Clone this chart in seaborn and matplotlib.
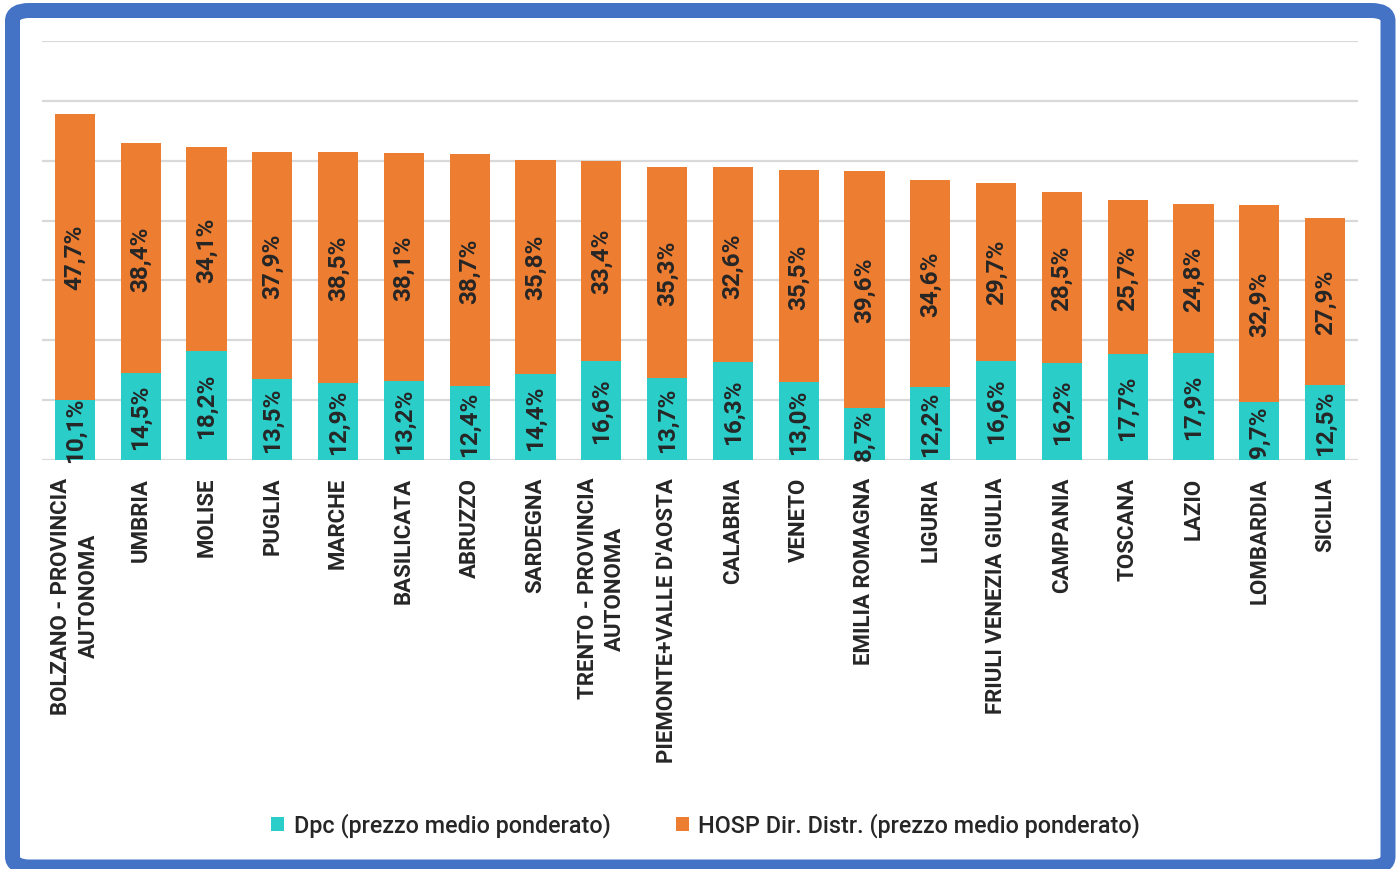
import matplotlib
matplotlib.use("Agg")
import matplotlib.pyplot as plt
import seaborn as sns
import pandas as pd
from matplotlib.patches import FancyBboxPatch, Patch

regions = ["BOLZANO - PROVINCIA\nAUTONOMA", "UMBRIA", "MOLISE", "PUGLIA", "MARCHE",
           "BASILICATA", "ABRUZZO", "SARDEGNA", "TRENTO - PROVINCIA\nAUTONOMA",
           "PIEMONTE+VALLE D'AOSTA", "CALABRIA", "VENETO", "EMILIA ROMAGNA", "LIGURIA",
           "FRIULI VENEZIA GIULIA", "CAMPANIA", "TOSCANA", "LAZIO", "LOMBARDIA", "SICILIA"]
dpc = [10.1, 14.5, 18.2, 13.5, 12.9, 13.2, 12.4, 14.4, 16.6, 13.7,
       16.3, 13.0, 8.7, 12.2, 16.6, 16.2, 17.7, 17.9, 9.7, 12.5]
hosp = [47.7, 38.4, 34.1, 37.9, 38.5, 38.1, 38.7, 35.8, 33.4, 35.3,
        32.6, 35.5, 39.6, 34.6, 29.7, 28.5, 25.7, 24.8, 32.9, 27.9]
series_names = ["Dpc (prezzo medio ponderato)", "HOSP Dir. Distr. (prezzo medio ponderato)"]

TEAL = "#2BCDC9"
ORANGE = "#ED7D31"
TXT = "#262626"

sns.set_theme(style="white")
plt.rcParams['font.family'] = ['Roboto', 'DejaVu Sans']

df = pd.DataFrame({"region": regions, "dpc": dpc, "hosp": hosp})
df["total"] = df["dpc"] + df["hosp"]

fig = plt.figure(figsize=(14, 8.7), dpi=100)
ax = fig.add_axes([0.030, 0.4701, 0.940, 0.4816])

sns.barplot(data=df, x="region", y="total", color=ORANGE, width=0.61, saturation=1,
            ax=ax, edgecolor="none", zorder=3)
sns.barplot(data=df, x="region", y="dpc", color=TEAL, width=0.61, saturation=1,
            ax=ax, edgecolor="none", zorder=3)

ax.set_ylim(0, 70)
ax.set_xlim(-0.5, len(regions) - 0.5)
ax.set_yticks(range(0, 71, 10))
ax.yaxis.grid(True, color="#D9D9D9", linewidth=1.6, zorder=0)
ax.set_yticklabels([])
ax.tick_params(axis="both", length=0)
for s in ax.spines.values():
    s.set_visible(False)
ax.set_xlabel("")
ax.set_ylabel("")

ax.set_xticks(range(len(regions)))
ax.set_xticklabels(regions, rotation=90, ha="center", va="top", multialignment="center",
                   fontsize=16, color=TXT, fontweight="bold", linespacing=1.3)
ax.tick_params(axis="x", pad=12)

for i, (d, h) in enumerate(zip(dpc, hosp)):
    ax.text(i, d / 2, f"{d:.1f}%".replace(".", ","), rotation=90, ha="center", va="center",
            fontsize=17.5, fontweight="bold", color=TXT, zorder=5)
    ax.text(i, d + h / 2, f"{h:.1f}%".replace(".", ","), rotation=90, ha="center", va="center",
            fontsize=17.5, fontweight="bold", color=TXT, zorder=5)

handles = [Patch(facecolor=TEAL, edgecolor="none"), Patch(facecolor=ORANGE, edgecolor="none")]
fig.legend(handles, series_names, loc="center", bbox_to_anchor=(0.504, 0.0506), ncol=2,
           frameon=False, handlelength=0.55, handleheight=0.55,
           handletextpad=0.4, columnspacing=2.8, labelcolor=TXT,
           prop={"size": 16.8, "weight": "medium"})

border = FancyBboxPatch((12.5 / 1400, 2 / 870), 1375.5 / 1400, 856.5 / 870,
                        boxstyle="round,pad=0,rounding_size=0.012",
                        transform=fig.transFigure, facecolor="none",
                        edgecolor="#4472C4", linewidth=10.8, zorder=10)
fig.patches.append(border)

fig.savefig("out.png", dpi=100)
